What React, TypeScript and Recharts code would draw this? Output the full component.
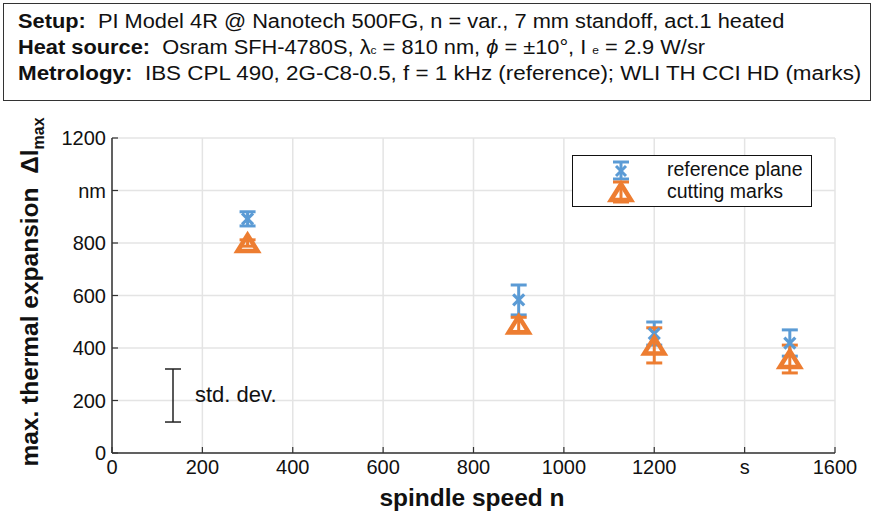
import React from "react";
import { ScatterChart, Scatter, XAxis, YAxis, CartesianGrid, ErrorBar } from "recharts";

const speeds = [300, 900, 1200, 1500];
const referencePlane = [892, 583, 455, 419];
const referencePlaneStd = [27, 57, 44, 50];
const cuttingMarks = [800, 490, 410, 358];
const cuttingMarksStd = [12, 27, 67, 53];

const xTicks = [0, 200, 400, 600, 800, 1000, 1200, 1400, 1600];
const yTicks = [0, 200, 400, 600, 800, 1000, 1200];
const xTickNames: Record<number, string> = { 1400: "s" };
const yTickNames: Record<number, string> = { 1000: "nm" };

const stdDevNote = [{ n: 135, value: 219, std: 101 }];

const BLUE = "#5b9bd5";
const ORANGE = "#ed7d31";
const AXIS = "#333";
const FONT = '"Liberation Sans", Arial, Helvetica, sans-serif';

const refData = speeds.map((n, i) => ({ n, value: referencePlane[i], std: referencePlaneStd[i] }));
const cutData = speeds.map((n, i) => ({ n, value: cuttingMarks[i], std: cuttingMarksStd[i] }));

const XTick = (props: any) => {
    const { x, y, payload } = props;
    const axisY = y - 7;
    const label = xTickNames[payload.value] ?? String(payload.value);
    return (
        <g>
            <line x1={x} x2={x} y1={axisY} y2={axisY - 6} stroke={AXIS} strokeWidth={1.2} />
            <text x={x} y={y} dy="0.71em" textAnchor="middle" fontSize={20} fontFamily={FONT} fill="#111">
                {label}
            </text>
        </g>
    );
};

const YTick = (props: any) => {
    const { x, y, payload } = props;
    const axisX = x + 6;
    const label = yTickNames[payload.value] ?? String(payload.value);
    return (
        <g>
            <line x1={axisX} x2={axisX + 6} y1={y} y2={y} stroke={AXIS} strokeWidth={1.2} />
            <text x={x} y={y} dy="0.355em" textAnchor="end" fontSize={20} fontFamily={FONT} fill="#111">
                {label}
            </text>
        </g>
    );
};

const CrossMark = ({ cx, cy }: any) => (
    <g stroke={BLUE} strokeWidth={3.2}>
        <line x1={cx - 5.5} y1={cy - 5.5} x2={cx + 5.5} y2={cy + 5.5} />
        <line x1={cx - 5.5} y1={cy + 5.5} x2={cx + 5.5} y2={cy - 5.5} />
    </g>
);

const TriangleMark = ({ cx, cy }: any) => (
    <polygon
        points={`${cx},${cy - 8} ${cx + 10},${cy + 8} ${cx - 10},${cy + 8}`}
        fill="none"
        stroke={ORANGE}
        strokeWidth={4.5}
    />
);

const NoMark = () => <g />;

function LegendBox() {
    return (
        <div
            style={{
                position: "absolute", left: 572, top: 155, width: 238, height: 50,
                border: "1.5px solid #111", background: "#fff", fontFamily: FONT, fontSize: 19.5, color: "#111",
            }}
        >
            <svg width={90} height={50} style={{ position: "absolute", left: 0, top: 0 }}>
                <g stroke={BLUE} strokeWidth={3}>
                    <line x1={48} x2={48} y1={6} y2={23} />
                    <line x1={40} x2={56} y1={6} y2={6} />
                    <line x1={40} x2={56} y1={23} y2={23} />
                    <line x1={43} y1={10} x2={53} y2={20} />
                    <line x1={43} y1={20} x2={53} y2={10} />
                </g>
                <g stroke={ORANGE} strokeWidth={3}>
                    <line x1={48} x2={48} y1={26} y2={46} />
                    <line x1={40} x2={56} y1={26} y2={26} />
                    <line x1={40} x2={56} y1={46} y2={46} />
                    <polygon points="48,28 58,44 38,44" fill="none" strokeWidth={4.5} />
                </g>
            </svg>
            <div style={{ position: "absolute", left: 94, top: 2, lineHeight: "22px" }}>reference plane</div>
            <div style={{ position: "absolute", left: 94, top: 24, lineHeight: "22px" }}>cutting marks</div>
        </div>
    );
}

function Header() {
    const line: React.CSSProperties = {
        position: "absolute", left: 14, lineHeight: "26px", whiteSpace: "nowrap",
        transform: "scaleX(1.09)", transformOrigin: "0 50%",
    };
    return (
        <div
            style={{
                position: "absolute", left: 3, top: 3, width: 866, height: 96,
                border: "1px solid #333", fontFamily: FONT, fontSize: 20, color: "#111",
            }}
        >
            <div style={{ ...line, top: 4 }}>
                <b>Setup:</b>&nbsp; PI Model 4R @ Nanotech 500FG, n = var., 7 mm standoff, act.1 heated
            </div>
            <div style={{ ...line, top: 30 }}>
                <b>Heat source:</b>&nbsp; Osram SFH-4780S, λ<span style={{ fontSize: 11 }}>c</span> = 810 nm,{" "}
                <i>ϕ</i> = ±10°, I <span style={{ fontSize: 11 }}>e</span> = 2.9 W/sr
            </div>
            <div style={{ ...line, top: 56, transform: "scaleX(1.12)" }}>
                <b>Metrology:</b>&nbsp; IBS CPL 490, 2G-C8-0.5, f = 1 kHz (reference); WLI TH CCI HD (marks)
            </div>
        </div>
    );
}

export default function App() {
    return (
        <div style={{ position: "relative", width: 874, height: 518, background: "#fff", fontFamily: FONT }}>
            <style>{"body{margin:0}"}</style>
            <Header />
            <ScatterChart width={874} height={518} margin={{ top: 138, right: 39, bottom: 35, left: 62 }}>
                <CartesianGrid stroke="#e4e4e4" strokeWidth={1.5} />
                <XAxis
                    type="number"
                    dataKey="n"
                    domain={[0, 1600]}
                    ticks={xTicks}
                    height={30}
                    tickSize={0}
                    tickMargin={7}
                    tickLine={false}
                    axisLine={{ stroke: AXIS, strokeWidth: 1.5 }}
                    tick={<XTick />}
                    interval={0}
                />
                <YAxis
                    type="number"
                    dataKey="value"
                    domain={[0, 1200]}
                    ticks={yTicks}
                    width={50}
                    tickSize={0}
                    tickMargin={6}
                    tickLine={false}
                    axisLine={{ stroke: AXIS, strokeWidth: 1.5 }}
                    tick={<YTick />}
                    interval={0}
                />
                <Scatter data={stdDevNote} shape={<NoMark />} isAnimationActive={false}>
                    <ErrorBar dataKey="std" direction="y" width={8} stroke="#222" strokeWidth={1.5} />
                </Scatter>
                <Scatter data={refData} shape={<CrossMark />} isAnimationActive={false}>
                    <ErrorBar dataKey="std" direction="y" width={8} stroke={BLUE} strokeWidth={3} />
                </Scatter>
                <Scatter data={cutData} shape={<TriangleMark />} isAnimationActive={false}>
                    <ErrorBar dataKey="std" direction="y" width={8} stroke={ORANGE} strokeWidth={3} />
                </Scatter>
            </ScatterChart>
            <div style={{ position: "absolute", left: 195, top: 382, fontSize: 22, lineHeight: "26px", color: "#111" }}>
                std. dev.
            </div>
            <LegendBox />
            <div
                style={{
                    position: "absolute", left: 30 - 220, top: 292 - 16, width: 440, height: 32,
                    lineHeight: "32px", textAlign: "center", transform: "rotate(-90deg)",
                    fontWeight: "bold", fontSize: 24.5, color: "#111", whiteSpace: "nowrap",
                }}
            >
                max. thermal expansion&nbsp; Δl<sub style={{ fontSize: 16 }}>max</sub>
            </div>
            <div
                style={{
                    position: "absolute", left: 272, top: 483, width: 400, textAlign: "center",
                    fontWeight: "bold", fontSize: 24.5, lineHeight: "30px", color: "#111",
                }}
            >
                spindle speed n
            </div>
        </div>
    );
}
